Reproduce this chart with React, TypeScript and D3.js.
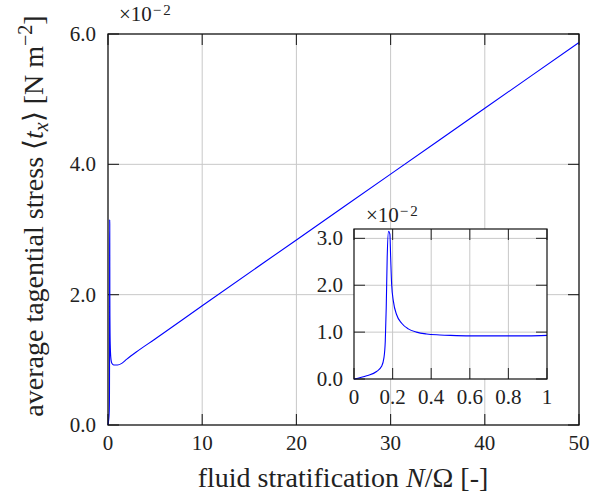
import React, { useRef, useEffect } from "react";
import * as d3 from "d3";

// main curve, values in units of 1e-2 N m^-2
const mainX = [0, 0.066, 0.117, 0.143, 0.155, 0.162, 0.167, 0.172, 0.179, 0.186, 0.19, 0.195, 0.204, 0.221, 0.247, 0.281, 0.324, 0.376, 0.445, 0.5, 0.6, 0.8, 1.0, 1.5, 2, 3, 5, 10, 20, 30, 40, 50];
const mainY = [0, 0.07, 0.16, 0.27, 0.45, 0.8, 1.52, 2.59, 3.15, 3.09, 2.59, 2.02, 1.66, 1.37, 1.19, 1.07, 1.0, 0.96, 0.94, 0.93, 0.92, 0.92, 0.92, 0.95, 1.01, 1.12, 1.32, 1.83, 2.84, 3.85, 4.86, 5.87];

// zoomed-in curve for the inset
const insetX = [0, 0.066, 0.117, 0.143, 0.155, 0.162, 0.167, 0.172, 0.179, 0.186, 0.19, 0.195, 0.204, 0.221, 0.247, 0.281, 0.324, 0.376, 0.445, 0.5, 0.6, 0.7, 0.8, 0.9, 1.0];
const insetY = [0, 0.07, 0.16, 0.27, 0.45, 0.8, 1.52, 2.59, 3.15, 3.09, 2.59, 2.02, 1.66, 1.37, 1.19, 1.07, 1.0, 0.96, 0.94, 0.93, 0.92, 0.92, 0.92, 0.92, 0.93];

const mainXTicks = [0, 10, 20, 30, 40, 50];
const mainYTicks = [0, 2, 4, 6];
const insetXTicks = [0, 0.2, 0.4, 0.6, 0.8, 1];
const insetYTicks = [0, 1, 2, 3];

const FONT = "'Liberation Serif', 'Times New Roman', serif";
const GRID = "#c8c8c8";
const LINE = "#0000ff";

export default function App() {
  const svgRef = useRef<SVGSVGElement>(null);

  useEffect(() => {
    const svg = d3.select(svgRef.current);
    svg.selectAll("*").remove();

    const W = 611;
    const H = 504;
    svg.append("rect").attr("width", W).attr("height", H).attr("fill", "#fff");

    // ---------- main axes ----------
    const m = { left: 108, right: 579, top: 34, bottom: 425 };
    const x = d3.scaleLinear().domain([0, 50]).range([m.left, m.right]);
    const y = d3.scaleLinear().domain([0, 6]).range([m.bottom, m.top]);
    const tick = 11;

    const g = svg.append("g");

    // grid
    g.selectAll(".gx")
      .data(mainXTicks.slice(1, -1))
      .join("line")
      .attr("x1", (d) => x(d))
      .attr("x2", (d) => x(d))
      .attr("y1", m.top)
      .attr("y2", m.bottom)
      .attr("stroke", GRID)
      .attr("stroke-width", 1);
    g.selectAll(".gy")
      .data(mainYTicks.slice(1, -1))
      .join("line")
      .attr("x1", m.left)
      .attr("x2", m.right)
      .attr("y1", (d) => y(d))
      .attr("y2", (d) => y(d))
      .attr("stroke", GRID)
      .attr("stroke-width", 1);

    // ticks, inward on all four sides
    const tg = g.append("g").attr("stroke", "#222").attr("stroke-width", 1.1);
    mainXTicks.forEach((t) => {
      tg.append("line").attr("x1", x(t)).attr("x2", x(t)).attr("y1", m.bottom).attr("y2", m.bottom - tick);
      tg.append("line").attr("x1", x(t)).attr("x2", x(t)).attr("y1", m.top).attr("y2", m.top + tick);
    });
    mainYTicks.forEach((t) => {
      tg.append("line").attr("x1", m.left).attr("x2", m.left + tick).attr("y1", y(t)).attr("y2", y(t));
      tg.append("line").attr("x1", m.right).attr("x2", m.right - tick).attr("y1", y(t)).attr("y2", y(t));
    });

    // main line
    const pts: [number, number][] = mainX.map((d, i) => [d, mainY[i]]);
    const line = d3
      .line<[number, number]>()
      .x((d) => x(d[0]))
      .y((d) => y(d[1]))
      .curve(d3.curveMonotoneX);
    g.append("path")
      .datum(pts)
      .attr("fill", "none")
      .attr("stroke", LINE)
      .attr("stroke-width", 1.1)
      .attr("d", line);

    g.append("rect")
      .attr("x", m.left)
      .attr("y", m.top)
      .attr("width", m.right - m.left)
      .attr("height", m.bottom - m.top)
      .attr("fill", "none")
      .attr("stroke", "#111")
      .attr("stroke-width", 1.3);

    // tick labels
    g.selectAll(".xl")
      .data(mainXTicks)
      .join("text")
      .attr("x", (d) => x(d))
      .attr("y", 450)
      .attr("text-anchor", "middle")
      .attr("font-family", FONT)
      .attr("font-size", 21)
      .attr("fill", "#222")
      .text((d) => String(d));
    g.selectAll(".yl")
      .data(mainYTicks)
      .join("text")
      .attr("x", 96)
      .attr("y", (d) => y(d) + 7)
      .attr("text-anchor", "end")
      .attr("font-family", FONT)
      .attr("font-size", 21)
      .attr("fill", "#222")
      .text((d) => d3.format(".1f")(d));

    // exponent
    const e1 = g.append("text").attr("x", 119).attr("y", 21).attr("font-family", FONT).attr("font-size", 21).attr("fill", "#222");
    e1.append("tspan").text("×10");
    e1.append("tspan").attr("dy", -6).attr("dx", 1).attr("font-size", 15).attr("letter-spacing", 2).text("−2");

    // axis labels
    const xl = g
      .append("text")
      .attr("x", 343)
      .attr("y", 487)
      .attr("text-anchor", "middle")
      .attr("font-family", FONT)
      .attr("font-size", 28)
      .attr("fill", "#222");
    xl.append("tspan").text("fluid stratification ");
    xl.append("tspan").attr("font-style", "italic").text("N");
    xl.append("tspan").text("/Ω [-]");

    const yl = g
      .append("text")
      .attr("transform", `translate(43, 216) rotate(-90)`)
      .attr("text-anchor", "middle")
      .attr("font-family", FONT)
      .attr("font-size", 28)
      .attr("fill", "#222");
    yl.append("tspan").text("average tagential stress ⟨");
    yl.append("tspan").attr("font-style", "italic").text("t");
    yl.append("tspan").attr("font-style", "italic").attr("font-size", 20).attr("dy", 5).text("x");
    yl.append("tspan").attr("dy", -5).text("⟩ [N m");
    yl.append("tspan").attr("font-size", 20).attr("dy", -11).text("−2");
    yl.append("tspan").attr("dy", 11).text("]");

    // ---------- inset ----------
    const n = { left: 354, right: 547, top: 229, bottom: 379 };
    const ix = d3.scaleLinear().domain([0, 1]).range([n.left, n.right]);
    const iy = d3.scaleLinear().domain([0, 3.2]).range([n.bottom, n.top]);
    const ig = svg.append("g");
    ig.append("rect")
      .attr("x", n.left)
      .attr("y", n.top)
      .attr("width", n.right - n.left)
      .attr("height", n.bottom - n.top)
      .attr("fill", "#fff");

    ig.selectAll(".igx")
      .data(insetXTicks.slice(1, -1))
      .join("line")
      .attr("x1", (d) => ix(d))
      .attr("x2", (d) => ix(d))
      .attr("y1", n.top)
      .attr("y2", n.bottom)
      .attr("stroke", GRID);
    ig.selectAll(".igy")
      .data(insetYTicks.slice(1))
      .join("line")
      .attr("x1", n.left)
      .attr("x2", n.right)
      .attr("y1", (d) => iy(d))
      .attr("y2", (d) => iy(d))
      .attr("stroke", GRID);

    const itg = ig.append("g").attr("stroke", "#333").attr("stroke-width", 1.1);
    insetXTicks.forEach((t) => {
      itg.append("line").attr("x1", ix(t)).attr("x2", ix(t)).attr("y1", n.bottom).attr("y2", n.bottom - tick);
      itg.append("line").attr("x1", ix(t)).attr("x2", ix(t)).attr("y1", n.top).attr("y2", n.top + tick);
    });
    insetYTicks.forEach((t) => {
      itg.append("line").attr("x1", n.left).attr("x2", n.left + tick).attr("y1", iy(t)).attr("y2", iy(t));
      itg.append("line").attr("x1", n.right).attr("x2", n.right - tick).attr("y1", iy(t)).attr("y2", iy(t));
    });

    const ipts: [number, number][] = insetX.map((d, i) => [d, insetY[i]]);
    const iline = d3
      .line<[number, number]>()
      .x((d) => ix(d[0]))
      .y((d) => iy(d[1]))
      .curve(d3.curveMonotoneX);
    ig.append("path")
      .datum(ipts)
      .attr("fill", "none")
      .attr("stroke", LINE)
      .attr("stroke-width", 1.1)
      .attr("d", iline);

    ig.append("rect")
      .attr("x", n.left)
      .attr("y", n.top)
      .attr("width", n.right - n.left)
      .attr("height", n.bottom - n.top)
      .attr("fill", "none")
      .attr("stroke", "#111")
      .attr("stroke-width", 1.2);

    ig.selectAll(".ixl")
      .data(insetXTicks)
      .join("text")
      .attr("x", (d) => ix(d))
      .attr("y", 404)
      .attr("text-anchor", "middle")
      .attr("font-family", FONT)
      .attr("font-size", 21)
      .attr("fill", "#222")
      .text((d) => String(d));
    ig.selectAll(".iyl")
      .data(insetYTicks)
      .join("text")
      .attr("x", 343)
      .attr("y", (d) => iy(d) + 7)
      .attr("text-anchor", "end")
      .attr("font-family", FONT)
      .attr("font-size", 21)
      .attr("fill", "#222")
      .text((d) => d3.format(".1f")(d));

    const e2 = ig.append("text").attr("x", 366).attr("y", 222).attr("font-family", FONT).attr("font-size", 21).attr("fill", "#222");
    e2.append("tspan").text("×10");
    e2.append("tspan").attr("dy", -6).attr("dx", 1).attr("font-size", 15).attr("letter-spacing", 2).text("−2");
  }, []);

  return (
    <svg
      ref={svgRef}
      width={611}
      height={504}
      style={{ position: "absolute", left: 0, top: 0 }}
    />
  );
}
